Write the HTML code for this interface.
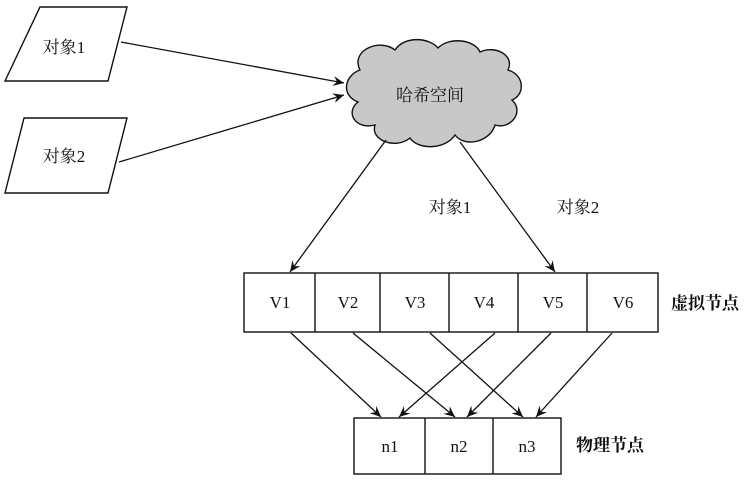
<!DOCTYPE html>
<html><head><meta charset="utf-8"><style>
body{margin:0;background:#fff}
svg text{font-family:"Liberation Serif","Noto Serif CJK SC","Noto Sans CJK SC",serif;font-size:17px;fill:#111}
</style></head><body>
<svg width="753" height="479" viewBox="0 0 753 479" xmlns="http://www.w3.org/2000/svg">
<defs><marker id="a" markerWidth="12" markerHeight="10" refX="11" refY="5" orient="auto" markerUnits="userSpaceOnUse">
<path d="M0,0 L11,5 L0,10 L4,5 Z" fill="#111"/></marker></defs>
<g stroke="#111" stroke-width="1.4" fill="#fff">
<polygon points="40,7 127,7 108,81 5,81"/>
<polygon points="24,118 127,118 108,193 5,193"/>
<path d="M360,70 C350,50 380,38 395,50 C405,35 430,38 438,48 C450,36 475,40 480,52 C495,45 515,55 508,70 C525,75 525,95 512,100 C525,112 510,130 495,125 C490,142 465,148 455,135 C445,150 418,150 410,138 C395,150 370,140 375,125 C355,130 345,112 358,102 C340,95 345,75 360,70 Z" fill="#c8c8c8"/>
<rect x="244" y="273" width="414" height="59"/>
<rect x="354" y="418" width="207" height="56"/>
</g>
<g stroke="#111" stroke-width="1.4">
<line x1="315" y1="273" x2="315" y2="332"/><line x1="380" y1="273" x2="380" y2="332"/>
<line x1="449" y1="273" x2="449" y2="332"/><line x1="518" y1="273" x2="518" y2="332"/>
<line x1="587" y1="273" x2="587" y2="332"/>
<line x1="425" y1="418" x2="425" y2="474"/><line x1="493" y1="418" x2="493" y2="474"/>
</g>
<g stroke="#111" stroke-width="1.3" marker-end="url(#a)">
<line x1="121" y1="42" x2="344" y2="83"/>
<line x1="119" y1="162" x2="344" y2="95"/>
<line x1="386" y1="140" x2="290" y2="272"/>
<line x1="460" y1="142" x2="555" y2="272"/>
<line x1="291" y1="333" x2="381" y2="417"/>
<line x1="353" y1="333" x2="455" y2="417"/>
<line x1="430" y1="333" x2="523" y2="417"/>
<line x1="495" y1="333" x2="399" y2="417"/>
<line x1="551" y1="333" x2="467" y2="417"/>
<line x1="612" y1="333" x2="536" y2="417"/>
</g>
<text x="64" y="53" text-anchor="middle">对象1</text>
<text x="64" y="162" text-anchor="middle">对象2</text>
<text x="430" y="101" text-anchor="middle">哈希空间</text>
<text x="450" y="213" text-anchor="middle">对象1</text>
<text x="578" y="213" text-anchor="middle">对象2</text>
<g text-anchor="middle">
<text x="280" y="308">V1</text><text x="348" y="308">V2</text><text x="415" y="308">V3</text>
<text x="484" y="308">V4</text><text x="553" y="308">V5</text><text x="623" y="308">V6</text>
<text x="390" y="452">n1</text><text x="459" y="452">n2</text><text x="527" y="452">n3</text>
</g>
<text x="705" y="309" text-anchor="middle" font-weight="bold">虚拟节点</text>
<text x="610" y="451" text-anchor="middle" font-weight="bold">物理节点</text>
</svg>
</body></html>
